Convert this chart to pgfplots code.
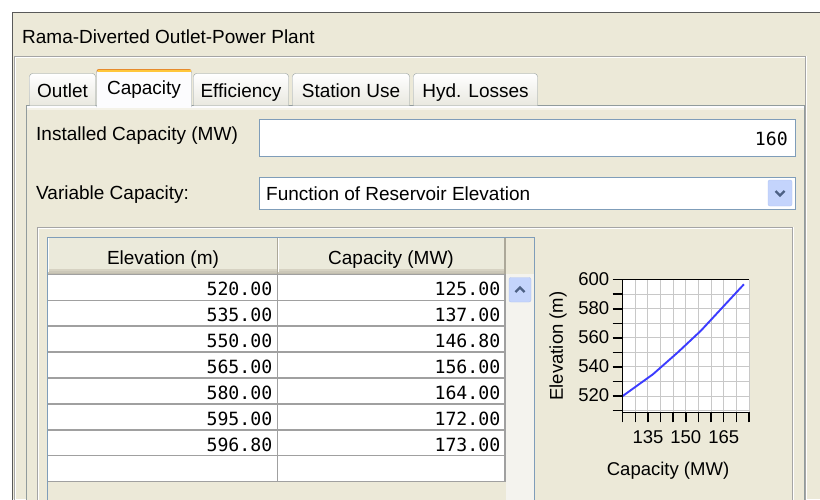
\documentclass[border=0pt]{standalone}
\usepackage{fontspec}
\setmainfont{Liberation Sans}
\newfontfamily\mono{DejaVu Sans Mono}
\usepackage{pgfplots}
\pgfplotsset{compat=1.18}
\definecolor{bg}{HTML}{ECE9D8}
\definecolor{tabborder}{HTML}{919B9C}
\definecolor{tabbot}{HTML}{E9E8E0}
\definecolor{fieldborder}{HTML}{7F9DB9}
\definecolor{etch}{HTML}{A5A5A5}
\definecolor{cellgrid}{HTML}{A0A0A0}
\definecolor{hdr}{HTML}{EBEADB}
\definecolor{hdrA}{HTML}{D6D2C2}
\definecolor{hdrB}{HTML}{CBC7B8}
\definecolor{hdrC}{HTML}{C1BDAE}
\definecolor{hdrsep}{HTML}{ACA899}
\definecolor{btn}{HTML}{C4D4FC}
\definecolor{btnb}{HTML}{B0C4F2}
\definecolor{chev}{HTML}{4D6185}
\definecolor{curve}{HTML}{3C3CFF}
\definecolor{chgrid}{HTML}{C8C8C8}
\definecolor{selfill}{HTML}{FCFCFE}
\definecolor{orangeA}{HTML}{E68B2C}
\definecolor{orangeB}{HTML}{FFC73C}
\definecolor{track}{HTML}{F4F3EE}
\newcommand\gui{\fontsize{19}{22}\selectfont}
\newcommand\num{\mono\fontsize{18.2}{22}\selectfont}
\newcommand\chartfont{\fontsize{18.5}{21}\selectfont}
\begin{document}
\begin{tikzpicture}
\path[use as bounding box] (0pt,0pt) rectangle (820pt,-499pt);
\begin{scope}[x=1pt,y=-1pt]
% background
\fill[bg] (0,0) rectangle (820,499);
\fill[white] (0,0) rectangle (820,12);
\fill[white] (0,0) rectangle (12,499);
\draw[gray!70!black] (12.5,505) -- (12.5,12.5) -- (825,12.5);
% title
\node[anchor=base west, inner sep=0pt] at (22,43) {\gui Rama-Diverted Outlet-Power Plant};
% etched outer group
\draw[etch] (14.5,510) -- (14.5,56.5) -- (805.5,56.5) -- (805.5,510);
\draw[white] (15.5,510) -- (15.5,57.5) -- (804.5,57.5);
\draw[white] (806.5,56) -- (806.5,510);
% tab panel
\draw[tabborder, fill=bg] (26.5,105.5) rectangle (804,510);
\fill[selfill] (27,106) rectangle (803.5,108);
\fill[white!40!bg] (27,108) rectangle (803.5,110);
% unselected tabs
\draw[tabborder, top color=white, bottom color=tabbot, rounded corners=3pt] (29.5,105.5) -- (29.5,73.5) -- (95.5,73.5) -- (95.5,105.5);
\draw[tabborder, top color=white, bottom color=tabbot, rounded corners=3pt] (193.5,105.5) -- (193.5,73.5) -- (288.5,73.5) -- (288.5,105.5);
\draw[tabborder, top color=white, bottom color=tabbot, rounded corners=3pt] (292.5,105.5) -- (292.5,73.5) -- (409.5,73.5) -- (409.5,105.5);
\draw[tabborder, top color=white, bottom color=tabbot, rounded corners=3pt] (413.5,105.5) -- (413.5,73.5) -- (537.5,73.5) -- (537.5,105.5);
\node[anchor=base, inner sep=0pt] at (62.5,97.5) {\gui Outlet};
\node[anchor=base, inner sep=0pt] at (241,97.5) {\gui Efficiency};
\node[anchor=base, inner sep=0pt] at (351,97.5) {\gui Station Use};
\node[anchor=base, inner sep=0pt] at (475.5,97.5) {\gui Hyd. Losses};
% selected tab
\draw[tabborder, fill=selfill, rounded corners=3pt] (96.5,107) -- (96.5,69.5) -- (191.5,69.5) -- (191.5,107);
\fill[selfill] (97,104) rectangle (191,108);
\draw[orangeA, line width=1pt, rounded corners=2pt] (97,71.5) -- (97,69.5) -- (191,69.5) -- (191,71.5);
\fill[orangeB] (97.5,70) rectangle (190.5,72);
\node[anchor=base, inner sep=0pt] at (144,94.5) {\gui Capacity};
% installed capacity
\node[anchor=base west, inner sep=0pt] at (36,140.8) {\gui Installed Capacity (MW)};
\draw[fieldborder, fill=white] (259.5,119.5) rectangle (795.5,156.5);
\node[anchor=east, inner sep=0pt] at (788,138.5) {\num 160};
% variable capacity
\node[anchor=base west, inner sep=0pt] at (36,199.5) {\gui Variable Capacity:};
\draw[fieldborder, fill=white] (259.5,177.5) rectangle (795.5,209.5);
\node[anchor=base west, inner sep=0pt] at (266,200.5) {\gui Function of Reservoir Elevation};
\draw[btnb, fill=btn, rounded corners=2pt] (768,180) rectangle (792,206);
\draw[chev, line width=2.3pt] (775.5,191) -- (780,195.5) -- (784.5,191);
% inner group
\draw[etch] (37.5,510) -- (37.5,227.5) -- (792.5,227.5) -- (792.5,510);
\draw[white] (38.5,510) -- (38.5,228.5) -- (791.5,228.5);
\draw[white] (793.5,227) -- (793.5,510);
% table
\fill[bg] (47.5,237.5) rectangle (535,510);
\fill[hdr] (48,238) rectangle (505,274.3);
\fill[hdrA] (48,268.5) rectangle (505,270.5);
\fill[hdrB] (48,270.5) rectangle (505,272.5);
\fill[hdrC] (48,272.5) rectangle (505,274.3);
\draw[white] (48.5,238) -- (48.5,272);
\draw[hdrsep, line width=1.3pt] (277.3,238) -- (277.3,274);
\draw[white] (278.6,238) -- (278.6,272);
\draw[hdrsep, line width=1.3pt] (505,238) -- (505,274);
\node[anchor=base, inner sep=0pt] at (163,264.5) {\gui Elevation (m)};
\node[anchor=base, inner sep=0pt] at (391,264.5) {\gui Capacity (MW)};
% cells
\fill[white] (48,274.3) rectangle (505,481.7);
\foreach \k in {0,...,8} {
  \draw[cellgrid, line width=1.4pt] (48,274.3+25.925*\k) -- (505,274.3+25.925*\k);
}
\draw[cellgrid, line width=1.4pt] (277.3,274.3) -- (277.3,481.7);
\draw[cellgrid, line width=1.4pt] (505,274.3) -- (505,481.7);
\foreach \a/\b [count=\i from 0] in {520.00/125.00,535.00/137.00,550.00/146.80,565.00/156.00,580.00/164.00,595.00/172.00,596.80/173.00} {
  \node[anchor=east, inner sep=0pt] at (272.5,289.3+25.925*\i) {\num \a};
  \node[anchor=east, inner sep=0pt] at (500.5,289.3+25.925*\i) {\num \b};
}
% scrollbar
\fill[track] (505.8,274.3) rectangle (534.5,510);
\draw[btnb, fill=btn, rounded corners=2pt] (509,277.5) rectangle (531,302);
\draw[chev, line width=2.3pt] (515.5,292) -- (520,287.5) -- (524.5,292);
\draw[fieldborder] (47.5,237.5) rectangle (534.5,510);
\end{scope}
\begin{axis}[
  at={(622.7pt,-412.3pt)}, anchor=south west,
  scale only axis, width=126.3pt, height=132.6pt,
  xmin=125, xmax=175, ymin=508.8, ymax=600,
  xtick={125,130,...,175}, xticklabels={,,135,,,150,,,165,,},
  ytick={510,520,...,600}, yticklabels={,520,,540,,560,,580,,600},
  grid=major, grid style={chgrid, line width=1pt},
  axis line style={draw=none},
  tick style={black, line width=1.5pt},
  major tick length=10pt, tick align=outside, tick pos=left,
  axis background/.style={fill=white},
  ticklabel style={font=\chartfont},
  xticklabel style={yshift=-4.5pt},
  yticklabel style={yshift=1pt},
  label style={font=\chartfont},
  xlabel={Capacity (MW)}, ylabel={Elevation (m)},
  xlabel style={at={(axis description cs:0.359,-0.4427)}, anchor=center},
  ylabel style={at={(axis description cs:-0.5123,0.5)}, anchor=center},
  clip=false,
]
\addplot[curve, line width=1.9pt, no marks, line join=round] coordinates {
  (125,520) (137,535) (146.8,550) (156,565) (164,580) (172,595) (173,596.8)
};
\draw[black, line width=1.5pt] (rel axis cs:1,1) -- (rel axis cs:0,1) -- (rel axis cs:0,0) -- (rel axis cs:1,0);
\end{axis}
\end{tikzpicture}
\end{document}
